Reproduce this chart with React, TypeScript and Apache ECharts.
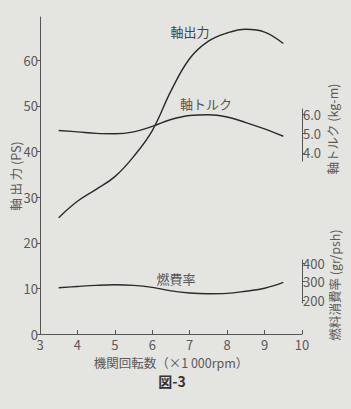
import React, { useEffect, useRef } from "react";
import * as echarts from "echarts";

const rpm = [3.5, 4, 4.5, 5, 5.5, 6, 6.5, 7, 7.5, 8, 8.5, 9, 9.5];
const power = [25.5, 29.1, 31.7, 34.5, 38.9, 44.6, 53.3, 60.4, 64.2, 66.0, 66.8, 66.2, 63.7];
const torque = [5.17, 5.1, 5.02, 5.0, 5.1, 5.38, 5.74, 5.95, 5.99, 5.87, 5.58, 5.25, 4.87];
const fuel = [267, 274, 280, 283, 280, 269, 250, 238, 234, 236, 248, 264, 296];

const rpmTicks = [3, 4, 5, 6, 7, 8, 9, 10];
const powerTicks = [0, 10, 20, 30, 40, 50, 60];
const torqueTicks = [4, 5, 6];
const fuelTicks = [200, 300, 400];

const FONT = "'Noto Sans CJK JP', 'Noto Sans', sans-serif";
const TXT = "#5a5a5a";
const AX = "#555";
const LINE = "#2a2a2a";

export default function App() {
  const ref = useRef<HTMLDivElement>(null);
  useEffect(() => {
    document.body.style.margin = "0";
    document.body.style.background = "#e4e4e0";
    const chart = echarts.init(ref.current!, null, { renderer: "svg" });
    const pair = (ys: number[]) => rpm.map((x, i) => [x, ys[i]]);
    const grid = { left: 40, right: 49, containLabel: false, outerBoundsMode: "none" };
    const hiddenX = (gi: number) => ({
      type: "value",
      gridIndex: gi,
      min: 3,
      max: 10,
      show: false,
    });
    const lineSeries = (name: string, xi: number, yi: number, ys: number[]) => ({
      name,
      type: "line",
      xAxisIndex: xi,
      yAxisIndex: yi,
      data: pair(ys),
      smooth: 0.4,
      showSymbol: false,
      clip: false,
      lineStyle: { color: LINE, width: 1.4 },
    });
    const rotText = (text: string, x: number, y: number) => ({
      type: "text",
      x,
      y,
      rotation: Math.PI / 2,
      style: { text, fill: TXT, font: `12.5px ${FONT}`, align: "center", verticalAlign: "middle" },
    });
    chart.setOption({
      animation: false,
      backgroundColor: "#e4e4e0",
      textStyle: { fontFamily: FONT },
      grid: [
        { ...grid, top: 17, height: 317 },
        { ...grid, top: 109, height: 52 },
        { ...grid, top: 260, height: 43 },
      ],
      xAxis: [
        {
          type: "value",
          gridIndex: 0,
          min: 3,
          max: 10,
          interval: 1,
          axisLine: { lineStyle: { color: AX, width: 1 } },
          axisTick: { inside: true, length: 4, lineStyle: { color: AX }, customValues: rpmTicks },
          axisLabel: { color: TXT, fontSize: 13, margin: 4, fontFamily: FONT, customValues: rpmTicks },
          splitLine: { show: false },
          name: "機関回転数（×1 000rpm）",
          nameLocation: "middle",
          nameGap: 21,
          nameTextStyle: { color: TXT, fontSize: 12.5, fontFamily: FONT },
        },
        hiddenX(1),
        hiddenX(2),
      ],
      yAxis: [
        {
          type: "value",
          gridIndex: 0,
          min: 0,
          max: 69.5,
          interval: 10,
          axisLine: { show: true, lineStyle: { color: AX, width: 1 } },
          axisTick: { show: true, length: 3, lineStyle: { color: AX }, customValues: powerTicks },
          axisLabel: { color: TXT, fontSize: 13, margin: 2, fontFamily: FONT, customValues: powerTicks },
          splitLine: { show: false },
        },
        {
          type: "value",
          gridIndex: 1,
          position: "right",
          min: 3.584,
          max: 6.286,
          axisLine: { show: true, lineStyle: { color: AX, width: 1 } },
          axisTick: { show: true, length: 3, lineStyle: { color: AX }, customValues: torqueTicks },
          axisLabel: {
            color: TXT,
            fontSize: 13,
            margin: 1,
            fontFamily: FONT,
            customValues: torqueTicks,
            formatter: (v: number) => v.toFixed(1),
          },
          splitLine: { show: false },
        },
        {
          type: "value",
          gridIndex: 2,
          position: "right",
          min: 183.7,
          max: 418,
          axisLine: { show: true, lineStyle: { color: AX, width: 1 } },
          axisTick: { show: true, length: 3, lineStyle: { color: AX }, customValues: fuelTicks },
          axisLabel: { color: TXT, fontSize: 13, margin: 1, fontFamily: FONT, customValues: fuelTicks },
          splitLine: { show: false },
        },
      ],
      series: [
        lineSeries("軸出力", 0, 0, power),
        lineSeries("軸トルク", 1, 1, torque),
        lineSeries("燃費率", 2, 2, fuel),
      ],
      graphic: [
        {
          type: "text",
          x: 190,
          y: 31,
          style: { text: "軸出力", fill: "#444", font: `13px ${FONT}`, align: "center", verticalAlign: "middle" },
        },
        {
          type: "text",
          x: 206,
          y: 103,
          style: { text: "軸トルク", fill: "#555", font: `13px ${FONT}`, align: "center", verticalAlign: "middle" },
        },
        {
          type: "text",
          x: 176,
          y: 278,
          style: { text: "燃費率", fill: "#555", font: `13px ${FONT}`, align: "center", verticalAlign: "middle" },
        },
        rotText("軸 出 力 (PS)", 15, 176),
        rotText("軸トルク (kg-m)", 332, 129),
        rotText("燃料消費率 (gr/psh)", 334, 285),
        {
          type: "text",
          x: 172,
          y: 381,
          style: { text: "図-3", fill: "#333", font: `bold 14px ${FONT}`, align: "center", verticalAlign: "middle" },
        },
      ],
    });
    return () => chart.dispose();
  }, []);
  return <div ref={ref} style={{ width: 351, height: 409 }} />;
}
